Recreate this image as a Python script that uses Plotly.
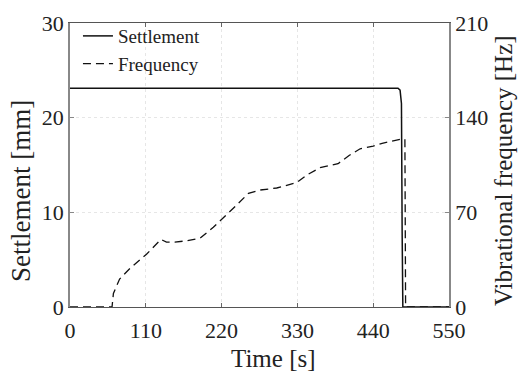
import plotly.graph_objects as go

# Settlement series
settle_t = [0, 100, 200, 300, 380, 440, 476, 479, 481, 482, 483, 550]
settle_mm = [23.1, 23.1, 23.1, 23.1, 23.05, 23.1, 23.1, 22.9, 21.5, 8.0, 0.0, 0.0]

# Frequency series
freq_t = [0, 61, 63, 72, 87, 111, 132, 140, 152, 170, 189, 208, 237, 259, 276, 300, 329,
          345, 363, 389, 405, 421, 440, 453, 479, 486, 487, 550]
freq_hz = [0, 0, 10, 20.7, 28.5, 39, 50, 48, 48, 49, 51, 59, 73, 84, 86.5, 88, 92,
           98, 103, 106, 112, 117, 119, 121, 124, 124, 0, 0]

x_ticks = [0, 110, 220, 330, 440, 550]
y_ticks = [0, 10, 20, 30]
y2_ticks = [0, 70, 140, 210]

x_title = "Time [s]"
y_title = "Settlement [mm]"
y2_title = "Vibrational frequency [Hz]"

FONT = "Liberation Serif"
TICK = dict(size=22, family=FONT, color="#222")

W, H = 521, 371
ML, MR, MT, MB = 70, 72, 23, 64
PW, PH = W - ML - MR, H - MT - MB

def px_x(p):
    return (p - ML) / PW

def px_y(p):
    return (H - MB - p) / PH

fig = go.Figure()
fig.add_trace(go.Scatter(x=settle_t, y=settle_mm, mode="lines", name="Settlement",
                         line=dict(color="#111", width=1.5)))
fig.add_trace(go.Scatter(x=freq_t, y=freq_hz, mode="lines", name="Frequency",
                         yaxis="y2", line=dict(color="#111", width=1.3, dash="8px,5px")))

fig.update_layout(
    width=W, height=H,
    margin=dict(l=ML, r=MR, t=MT, b=MB),
    paper_bgcolor="white", plot_bgcolor="white",
    font=dict(family=FONT, color="#222", size=19),
    showlegend=True,
    legend=dict(x=0.021, y=1.021, xanchor="left", yanchor="top",
                bgcolor="rgba(0,0,0,0)", font=dict(size=19, family=FONT),
                tracegroupgap=0),
    xaxis=dict(range=[0, 550], tickvals=x_ticks, ticks="inside", ticklen=4,
               tickcolor="#666", showline=True, linecolor="#555", linewidth=1.2,
               mirror="ticks", showgrid=True, gridcolor="#e6e6e6", griddash="dot",
               zeroline=False, automargin=False, ticklabelstandoff=3,
               tickfont=TICK),
    yaxis=dict(range=[0, 30], tickvals=y_ticks, ticks="inside", ticklen=4,
               tickcolor="#888", showline=True, linecolor="#888", linewidth=1.5,
               showgrid=True, gridcolor="#e6e6e6", griddash="dot", zeroline=False,
               automargin=False, tickfont=TICK),
    yaxis2=dict(range=[0, 210], tickvals=y2_ticks, ticks="inside", ticklen=4,
                tickcolor="#888", overlaying="y", side="right", showline=True,
                linecolor="#888", linewidth=1.5, showgrid=False, zeroline=False,
                automargin=False, tickfont=TICK),
    annotations=[
        dict(text=x_title, xref="paper", yref="paper", x=px_x(273), y=px_y(358),
             xanchor="center", yanchor="middle", showarrow=False,
             font=dict(size=25, family=FONT, color="#222")),
        dict(text=y_title, xref="paper", yref="paper", x=px_x(21), y=px_y(191),
             xanchor="center", yanchor="middle", showarrow=False, textangle=-90,
             font=dict(size=27, family=FONT, color="#222")),
        dict(text=y2_title, xref="paper", yref="paper", x=px_x(503), y=px_y(171),
             xanchor="center", yanchor="middle", showarrow=False, textangle=-90,
             font=dict(size=25, family=FONT, color="#222")),
    ],
)

fig.write_html("out.html")
